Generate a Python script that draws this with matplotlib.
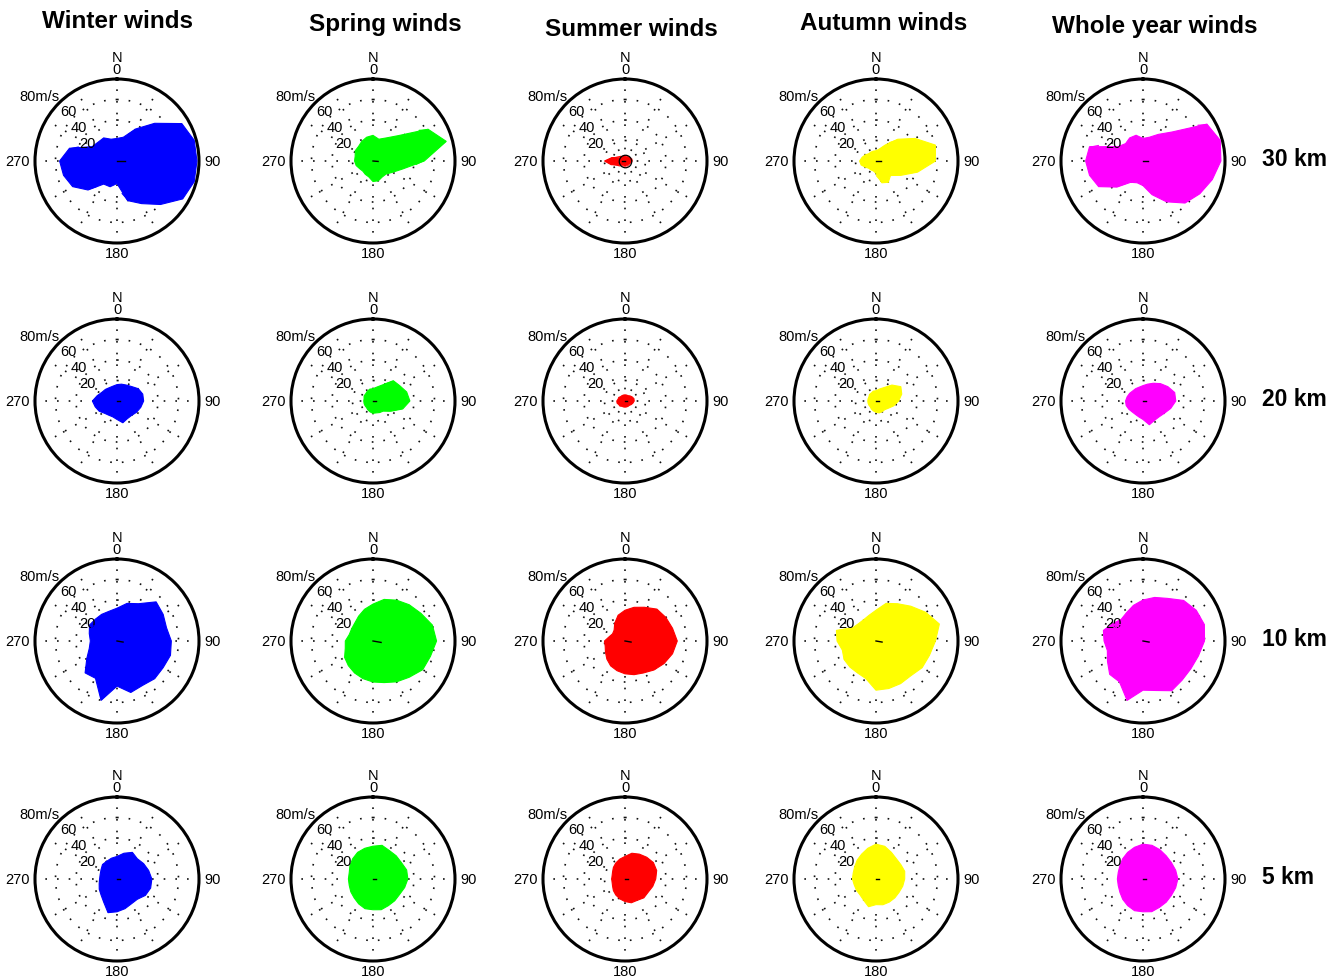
"""Compass plots of stratospheric / tropospheric winds by season and height.

Each panel: wind vectors (direction the wind blows to, speed m/s) drawn as
arrows from the centre, with the envelope shaded in the season colour.
Output: out.png
"""

import numpy as np
import matplotlib.pyplot as plt

plt.rcParams["font.family"] = ["Liberation Sans", "DejaVu Sans"]

seasons = ["Winter winds", "Spring winds", "Summer winds", "Autumn winds", "Whole year winds"]
season_colors = ["#0000ff", "#00ff00", "#ff0000", "#ffff00", "#ff00ff"]
heights = ["30 km", "20 km", "10 km", "5 km"]

# vector bearings (deg clockwise from N), one speed (m/s) per bearing
bearings = list(range(0, 360, 15))

speed_30km = [
    [22, 24, 36, 52, 73, 78, 78, 78, 74, 60, 48, 40, 22, 26, 26, 40, 50, 54, 56, 48, 28, 26, 26, 22],
    [25, 22, 26, 35, 62, 74, 50, 30, 22, 18, 18, 20, 20, 16, 15, 14, 15, 17, 18, 18, 20, 20, 22, 24],
    [4, 4, 4, 5, 6, 7, 7, 6, 5, 4, 4, 4, 4, 4, 4, 5, 7, 14, 20, 13, 6, 5, 4, 4],
    [10, 12, 18, 30, 44, 60, 58, 42, 28, 20, 24, 22, 12, 10, 10, 10, 12, 15, 16, 14, 12, 10, 10, 10],
    [22, 24, 30, 40, 72, 78, 76, 70, 64, 58, 46, 34, 24, 22, 24, 36, 50, 54, 56, 54, 28, 24, 26, 26],
]
speed_20km = [
    [16, 17, 18, 20, 24, 26, 26, 24, 22, 20, 20, 22, 18, 16, 16, 17, 20, 22, 24, 20, 17, 16, 15, 15],
    [12, 14, 18, 28, 30, 34, 36, 30, 20, 14, 13, 12, 12, 11, 10, 9, 9, 9, 9, 9, 10, 10, 11, 12],
    [6, 6, 6, 7, 8, 9, 9, 8, 7, 6, 6, 6, 6, 6, 6, 7, 7, 8, 8, 7, 7, 6, 6, 6],
    [10, 12, 15, 22, 28, 26, 22, 18, 14, 12, 12, 12, 11, 10, 9, 8, 8, 8, 8, 8, 8, 9, 9, 10],
    [15, 17, 20, 24, 28, 32, 32, 28, 24, 22, 22, 24, 18, 16, 15, 15, 16, 17, 17, 16, 15, 14, 14, 14],
]
speed_10km = [
    [32, 38, 42, 54, 52, 50, 53, 54, 52, 52, 50, 52, 44, 60, 42, 44, 34, 28, 26, 28, 31, 30, 30, 30],
    [36, 42, 46, 50, 54, 60, 62, 58, 56, 50, 46, 42, 40, 38, 36, 34, 32, 28, 27, 24, 24, 25, 28, 32],
    [30, 34, 38, 44, 46, 48, 51, 48, 44, 40, 36, 34, 32, 30, 28, 25, 22, 20, 20, 16, 14, 15, 20, 26],
    [30, 38, 42, 48, 56, 64, 58, 54, 52, 48, 48, 48, 48, 38, 36, 36, 36, 34, 38, 40, 26, 24, 24, 26],
    [40, 44, 48, 56, 60, 62, 60, 56, 54, 54, 56, 50, 48, 60, 46, 46, 40, 36, 38, 40, 34, 30, 32, 36],
]
speed_5km = [
    [22, 26, 30, 28, 30, 32, 34, 34, 32, 28, 28, 30, 32, 34, 26, 22, 20, 18, 17, 17, 18, 20, 20, 21],
    [32, 34, 32, 32, 32, 34, 34, 32, 30, 30, 30, 31, 30, 30, 28, 26, 25, 24, 24, 24, 26, 28, 30, 31],
    [22, 26, 28, 30, 32, 32, 30, 28, 26, 26, 24, 24, 22, 20, 18, 16, 14, 13, 13, 13, 14, 16, 18, 20],
    [34, 33, 30, 28, 28, 29, 28, 27, 26, 26, 26, 26, 25, 28, 24, 22, 22, 22, 23, 23, 24, 26, 28, 31],
    [34, 34, 33, 32, 32, 33, 34, 33, 32, 32, 32, 33, 32, 32, 30, 28, 26, 25, 25, 25, 26, 28, 30, 32],
]
speeds_by_height = [speed_30km, speed_20km, speed_10km, speed_5km]

# mean wind vector (black) per height row x season column
mean_dir = [
    [90, 95, 270, 90, 90],
    [90, 90, 90, 90, 90],
    [100, 100, 100, 100, 100],
    [90, 90, 90, 90, 90],
]
mean_speed = [
    [8, 5, 3, 5, 5],
    [3, 3, 2, 3, 3],
    [6, 8, 6, 6, 6],
    [3, 3, 3, 3, 3],
]

ring_levels = [20, 40, 60]
ring_labels = ["20", "40", "60", "80m/s"]

W, H = 1342, 979
col_cx = [117, 373, 625, 876, 1143]
row_cy = [162, 402, 642, 880]
rad_px = 82


def compass(ax, speeds, color, mdir, mspd, ring_mark=False):
    ax.set_theta_zero_location("N")
    ax.set_theta_direction(-1)
    ax.set_ylim(0, 80)
    ax.set_xticks([])
    ax.set_yticks([])
    ax.grid(False)
    ax.spines["polar"].set_linewidth(2.2)
    ax.patch.set_alpha(0)

    dots = (0, (1, 6))
    full = np.linspace(0, 2 * np.pi, 241)
    for lv in ring_levels:
        ax.plot(full, np.full_like(full, lv), color="#111111", lw=1.2, ls=dots)
    for sp in range(0, 360, 30):
        ax.plot([np.deg2rad(sp)] * 2, [0, 80], color="#111111", lw=1.2, ls=dots)

    th = np.deg2rad(bearings + [bearings[0]])
    rr = list(speeds) + [speeds[0]]
    ax.fill(th, rr, color=color, lw=0.8, zorder=3)
    for b, s in zip(bearings, speeds):
        ax.annotate("", xy=(np.deg2rad(b), s), xytext=(0, 0),
                    arrowprops=dict(arrowstyle="->,head_length=0.5,head_width=0.25",
                                    color=color, lw=0.9, shrinkA=0, shrinkB=0),
                    zorder=4)
    ax.plot([np.deg2rad(mdir)] * 2, [0, mspd], color="black", lw=1.0, zorder=5)
    if ring_mark:
        ax.plot([0], [0], "o", mfc="none", mec="black", ms=9, mew=0.9, zorder=5)

    kw = dict(fontsize=10.5, clip_on=False)
    ax.text(0, 83, "0", ha="center", va="bottom", **kw)
    ax.text(0, 95, "N", ha="center", va="bottom", **kw)
    ax.text(np.pi / 2, 85, "90", ha="left", va="center", **kw)
    ax.text(np.pi, 83, "180", ha="center", va="top", **kw)
    ax.text(3 * np.pi / 2, 85, "270", ha="right", va="center", **kw)
    for (b, r), lab in zip([(302, 34), (311, 50), (316, 68), (310, 99)], ring_labels):
        ax.text(np.deg2rad(b), r, lab, ha="center", va="center", **kw)


fig = plt.figure(figsize=(W / 100, H / 100), dpi=100)

for i, speeds_row in enumerate(speeds_by_height):
    for j, speeds in enumerate(speeds_row):
        cx, cy = col_cx[j], row_cy[i]
        ax = fig.add_axes([(cx - rad_px) / W, 1 - (cy + rad_px) / H,
                           2 * rad_px / W, 2 * rad_px / H], projection="polar")
        compass(ax, speeds, season_colors[j], mean_dir[i][j], mean_speed[i][j],
                ring_mark=(i == 0 and j == 2))

title_x = [117, 385, 631, 884, 1155]
title_y = [22, 24, 30, 23, 26]
for name, x, y in zip(seasons, title_x, title_y):
    fig.text(x / W, 1 - y / H, name, ha="center", va="center",
             fontsize=17.5, fontweight="bold")

for lab, cy in zip(heights, row_cy):
    fig.text(1262 / W, 1 - (cy - 2) / H, lab, ha="left", va="center",
             fontsize=16.5, fontweight="bold")

fig.savefig("out.png", dpi=100)
